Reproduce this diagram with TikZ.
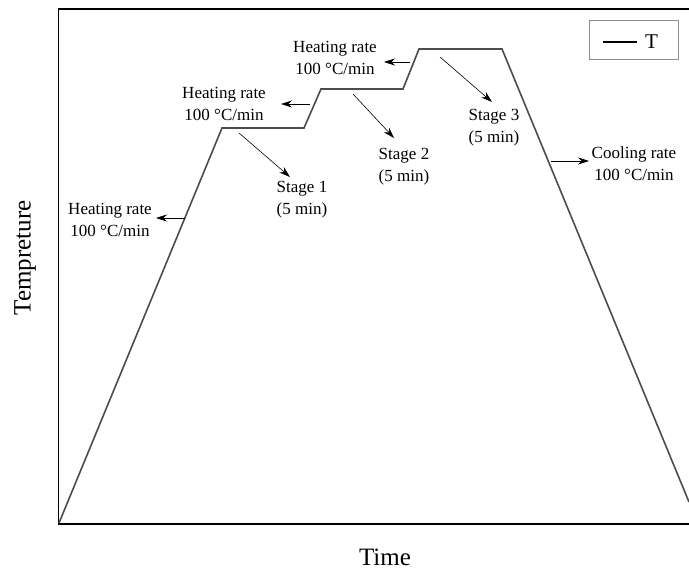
\documentclass[tikz,border=0pt]{standalone}
\usepackage{fontspec}
\setmainfont{Liberation Serif}
\usetikzlibrary{arrows.meta}
\begin{document}
\begin{tikzpicture}[x=1pt, y=-1pt,
    curve/.style={line width=1.6pt, draw=black!70},
    pointer/.style={line width=0.6pt, -{Stealth[length=11pt, width=7pt]}},
    note/.style={align=center, font=\fontsize{17}{22}\selectfont, inner sep=0pt},
    axislabel/.style={font=\fontsize{25}{30}\selectfont, inner sep=0pt}]
    \useasboundingbox (0, 0) rectangle (689, 570);
        % frame
        \draw[line width=1.5pt] (689, 9) -- (58.5, 9) -- (58.5, 524) -- (689, 524);

        % temperature profile
        \coordinate (p0) at (59, 523);
        \coordinate (p1) at (222, 128);
        \coordinate (p2) at (304, 128);
        \coordinate (p3) at (321, 89);
        \coordinate (p4) at (403, 89);
        \coordinate (p5) at (419, 49);
        \coordinate (p6) at (502, 49);
        \coordinate (p7) at (689, 502);
        \draw[curve, line join=miter] (p0) -- (p1) -- (p2) -- (p3) -- (p4) -- (p5) -- (p6) -- (p7);

        % labels
        \node[note] (heat1) at (110, 220) {Heating rate\\100 °C/min};
        \node[note] (heat2) at (224, 104) {Heating rate\\100 °C/min};
        \node[note] (heat3) at (335, 58) {Heating rate\\100 °C/min};
        \node[note] (stage1) at (302, 200) {Stage 1\\(5 min)};
        \node[note] (stage2) at (404, 167) {Stage 2\\(5 min)};
        \node[note] (stage3) at (494, 128) {Stage 3\\(5 min)};
        \node[note] (cool) at (634, 164) {Cooling rate\\100 °C/min};

        % pointers
        \coordinate (h1s) at (185, 218);
        \coordinate (h1e) at (156, 218);
        \coordinate (h2s) at (310, 104);
        \coordinate (h2e) at (281, 104);
        \coordinate (h3s) at (410, 62);
        \coordinate (h3e) at (384, 62);
        \coordinate (s1s) at (239, 133);
        \coordinate (s1e) at (290, 177);
        \coordinate (s2s) at (353, 94);
        \coordinate (s2e) at (394, 138);
        \coordinate (s3s) at (440, 57);
        \coordinate (s3e) at (492, 102);
        \coordinate (cs) at (551, 161);
        \coordinate (ce) at (589, 161);
        \draw[pointer] (h1s) -- (h1e);
        \draw[pointer] (h2s) -- (h2e);
        \draw[pointer] (h3s) -- (h3e);
        \draw[pointer] (s1s) -- (s1e);
        \draw[pointer] (s2s) -- (s2e);
        \draw[pointer] (s3s) -- (s3e);
        \draw[pointer] (cs) -- (ce);

        % legend
        \draw[draw=black!45, line width=0.8pt] (589, 20) rectangle (678, 59);
        \coordinate (lga) at (603, 42);
        \coordinate (lgb) at (637, 42);
        \draw[line width=1.2pt] (lga) -- (lgb);
        \node[anchor=west, inner sep=0pt, font=\fontsize{21}{24}\selectfont] (lgT) at (645, 42) {T};

        % axes
        \node[axislabel] (xlab) at (385, 557) {Time};
        \node[axislabel, rotate=90] (ylab) at (25, 258) {Tempreture};
    \end{tikzpicture}
\end{document}
